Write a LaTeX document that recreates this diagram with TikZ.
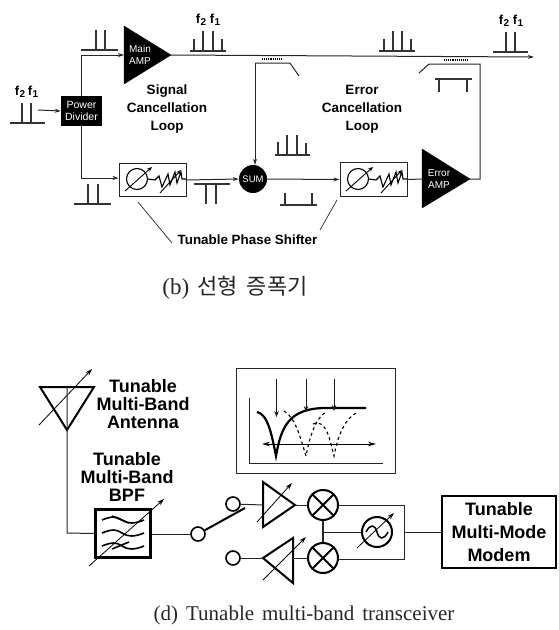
\documentclass[tikz,border=0pt]{standalone}
\usepackage{fontspec}
\setmainfont{Liberation Sans}
\newfontfamily\serifcap{Liberation Serif}
\newfontfamily\cjk{Noto Sans CJK KR}
\usetikzlibrary{arrows.meta}
\newcommand{\fsub}[1]{f\kern0.3pt\raisebox{-2.5pt}{\fontsize{10}{10}\selectfont #1}}
\tikzset{
  wire/.style={line width=1pt,draw=black!85},
  arr/.style={wire,-{Stealth[length=6pt,width=4pt]}},
  thin arr/.style={line width=0.8pt,draw=black!90,-{Stealth[length=6pt,width=4.5pt]}},
  spec/.style={line width=1.3pt,draw=black!80},
  blacktri/.style={fill=black,draw=black},
  amptext/.style={text=white,font=\fontsize{10}{12}\selectfont,align=center,inner sep=0pt},
  looplabel/.style={font=\bfseries\fontsize{13.5}{18}\selectfont,align=center,inner sep=0pt},
  boldlabel/.style={font=\bfseries\fontsize{18}{18}\selectfont,align=center,inner sep=0pt},
  freqlabel/.style={font=\bfseries\fontsize{13}{13}\selectfont,inner sep=0pt},
  psbox/.style={draw=black!85,line width=1pt,minimum width=67pt,minimum height=33.5pt,inner sep=0pt},
  mix/.style={circle,draw=black,line width=2pt,minimum size=30pt,inner sep=0pt},
  contact/.style={circle,draw=black,line width=1.6pt,minimum size=14pt,inner sep=0pt},
  thickline/.style={line width=2pt,draw=black},
}
\newcommand{\shifterart}{%
  \draw[line width=1.1pt] (18,16) circle (10.5);
  \draw[line width=0.9pt,-{Stealth[length=5pt,width=4pt]}] (6,28) -- (33,4);
  \draw[line width=1.1pt] (29,16) -- (36,17) -- (40,13) -- (43,24) -- (49,11) -- (51,22) -- (56,9) -- (58,20) -- (62,9) -- (63,16) -- (67,16);
  \draw[line width=0.9pt,-{Stealth[length=5pt,width=4pt]}] (41,30) -- (62,7);
}
\begin{document}
\begin{tikzpicture}[x=1pt,y=-1pt]
\useasboundingbox (0,0) rectangle (558,630);
% ---------- (b) linear amplifier ----------
\node[fill=black,minimum width=41pt,minimum height=30pt,inner sep=0pt,text=white,align=center,font=\fontsize{10.5}{12.5}\selectfont] (pd) at (81.5,111) {Power\\Divider};
\coordinate (mainin) at (124,55);
\coordinate (mainout) at (171,55);
\fill[blacktri] (124,26) -- (mainout) -- (124,84) -- cycle;
\node[amptext] (mainlabel) at (140,55) {Main\\AMP};
\coordinate (inA) at (38,110);
\draw[arr] (inA) -- (pd.west);
\coordinate (corner1) at (81,55);
\draw[arr] (pd.north -| corner1) -- (corner1) -- (mainin);
\coordinate (outend) at (534,57);
\draw[arr] (mainout) -- (outend);
\node[psbox] (ps1) at (152.5,180) {};
\node[psbox] (ps2) at (373.5,179.5) {};
\begin{scope}[shift={(119,163)}]\shifterart\end{scope}
\begin{scope}[shift={(340,163)}]\shifterart\end{scope}
\node[circle,fill=black,minimum size=28pt,inner sep=0pt,text=white,font=\fontsize{9.5}{10}\selectfont] (sum) at (253,179) {SUM};
\coordinate (corner2) at (81,178);
\draw[arr] (pd.south -| corner2) -- (corner2) -- (ps1.west |- corner2);
\draw[arr] (ps1.east) -- (sum.west);
\draw[arr] (sum.east) -- (ps2.west);
\coordinate (eampin) at (422,179);
\coordinate (eampout) at (470,179);
\fill[blacktri] (422,149) -- (eampout) -- (422,208) -- cycle;
\node[amptext] (eamplabel) at (439,179) {Error\\AMP};
\draw[wire] (ps2.east) -- (eampin);
% couplers
\coordinate (c1a) at (299,76);
\coordinate (c1b) at (290,63);
\coordinate (c1c) at (255,63);
\draw[wire] (c1a) -- (c1b) -- (c1c);
\draw[arr] (c1c) -- (sum.north -| c1c);
\draw[line width=1.1pt,densely dotted] (262,59) -- (283,59);
\coordinate (c2a) at (419,73);
\coordinate (c2b) at (429,64);
\coordinate (c2c) at (480,64);
\coordinate (c2d) at (480,179);
\draw[wire] (c2a) -- (c2b) -- (c2c) -- (c2d) -- (eampout);
\draw[line width=1.1pt,densely dotted] (444,60) -- (468,60);
% spectra
\draw[spec] (10,123) -- (45,123) (22,103) -- (22,123) (31,103) -- (31,123);
\node[freqlabel] (fi2) at (20,92) {\fsub2};
\node[freqlabel] (fi1) at (33,92) {\fsub1};
\draw[spec] (81,50) -- (118,50) (96,30) -- (96,50) (105,30) -- (105,50);
\draw[spec] (190,51) -- (226,51) (194,39) -- (194,51) (203,31) -- (203,51) (213,31) -- (213,51) (222,39) -- (222,51);
\node[freqlabel] (fm2) at (201,20) {\fsub2};
\node[freqlabel] (fm1) at (215,20) {\fsub1};
\draw[spec] (379,51) -- (415,51) (384,39) -- (384,51) (393,31) -- (393,51) (402,31) -- (402,51) (411,39) -- (411,51);
\draw[spec] (493,52) -- (528,52) (506,32) -- (506,52) (515,32) -- (515,52);
\node[freqlabel] (fo2) at (504,21) {\fsub2};
\node[freqlabel] (fo1) at (518,21) {\fsub1};
\draw[spec] (435,79) -- (472,79) (439,79) -- (439,92) (467,79) -- (467,92);
\draw[spec] (74,204) -- (111,204) (88,184) -- (88,204) (98,184) -- (98,204);
\draw[spec] (194,184) -- (230,184) (206,184) -- (206,204) (216,184) -- (216,204);
\draw[spec] (275,155) -- (310,155) (278,142) -- (278,155) (287,135) -- (287,155) (297,135) -- (297,155) (306,143) -- (306,155);
\draw[spec] (280,205) -- (317,205) (285,193) -- (285,205) (312,193) -- (312,205);
% labels
\node[looplabel] (sigloop) at (167,109) {Signal\\Cancellation\\Loop};
\node[looplabel] (errloop) at (362,109) {Error\\Cancellation\\Loop};
\node[inner sep=0pt,font=\bfseries\fontsize{13.4}{14}\selectfont] (tps) at (247.5,240) {Tunable Phase Shifter};
\coordinate (tl1) at (172,243);
\coordinate (tl2) at (320,230);
\draw[wire,line width=0.7pt] (138,202) -- (tl1);
\draw[wire,line width=0.7pt] (337,200) -- (tl2);
\node[inner sep=0pt,text=black!85] (capb) at (235,288) {{\serifcap\fontsize{23}{26}\selectfont (b)}\hspace{8pt}{\cjk\fontsize{22}{26}\selectfont 선형\hspace{9pt}증폭기}};
% ---------- (d) transceiver ----------
\coordinate (antapex) at (67,430);
\coordinate (anttop) at (67,387);
\draw[line width=2pt,line join=miter] (40,387) -- (94,387) -- (antapex) -- cycle;
\draw[line width=0.8pt,-{Stealth[length=7pt,width=4.5pt]}] (39,425) -- (92,369);
\node[draw=black,line width=2.4pt,minimum width=55pt,minimum height=48pt,inner sep=0pt] (bpf) at (123,533.5) {};
\draw[wire] (anttop) -- (antapex) -- (67,533) -- (bpf.west);
\foreach \yy in {520,533,546}{
  \draw[line width=1.6pt] (102,\yy) .. controls (112,\yy-4) and (116,\yy-4) .. (122,\yy) .. controls (128,\yy+4) and (134,\yy+4) .. (144,\yy);
}
\draw[line width=1.6pt] (112,516) -- (129,523) (112,549) -- (129,542);
\draw[line width=0.8pt,-{Stealth[length=7pt,width=4.5pt]}] (89,566) -- (164,499);
\node[boldlabel] (antlabel) at (143,404) {Tunable\\Multi-Band\\Antenna};
\node[boldlabel] (bpflabel) at (127,477) {Tunable\\Multi-Band\\BPF};
\node[contact] (swin) at (198,534) {};
\node[contact] (swa) at (233,504) {};
\node[contact] (swb) at (233,558) {};
\draw[wire] (bpf.east |- swin) -- (swin);
\coordinate (armend) at (245,508);
\draw[line width=2pt] (swin) -- (armend);
% amps
\coordinate (ua1) at (263,482);
\coordinate (ua2) at (263,527);
\coordinate (uatip) at (295,505);
\draw[thickline,line join=miter] (ua1) -- (uatip) -- (ua2) -- cycle;
\coordinate (la1) at (293,538);
\coordinate (la2) at (293,583);
\coordinate (latip) at (263,558);
\draw[thickline,line join=miter] (la1) -- (latip) -- (la2) -- cycle;
\draw[line width=0.8pt,-{Stealth[length=7pt,width=4.5pt]}] (257,522) -- (292,483);
\draw[line width=0.8pt,-{Stealth[length=7pt,width=4.5pt]}] (263,580) -- (306,537);
\node[mix] (mixu) at (323,505) {};
\node[mix] (mixl) at (323,558) {};
\draw[line width=1.8pt] (mixu.north west) -- (mixu.south east) (mixu.north east) -- (mixu.south west);
\draw[line width=1.8pt] (mixl.north west) -- (mixl.south east) (mixl.north east) -- (mixl.south west);
\coordinate (uin) at (263,505);
\coordinate (lin) at (263,558);
\draw[wire] (swa) -- (uin);
\draw[wire] (swb) -- (lin);
\draw[wire] (uatip) -- (mixu.west);
\draw[wire] (la1 |- mixl) -- (mixl.west);
\draw[wire,line width=1.2pt] (mixu.south) -- (mixl.north);
\node[circle,draw=black,line width=2pt,minimum size=30pt,inner sep=0pt] (lo) at (377,532) {};
\draw[line width=1.5pt] (366,532) .. controls (370,524) and (375,524) .. (377,532) .. controls (379,540) and (384,540) .. (388,532);
\draw[line width=0.8pt,-{Stealth[length=7pt,width=4.5pt]}] (357,548) -- (394,513);
\coordinate (tap) at (323,532);
\draw[wire] (tap) -- (lo.west);
\coordinate (busT) at (404,505);
\coordinate (busB) at (404,559);
\draw[wire] (mixu.east) -- (busT) -- (busB) -- (mixl.east |- busB);
\node[draw=black,line width=2.2pt,minimum width=114pt,minimum height=72pt,inner sep=0pt,align=center,font=\bfseries\fontsize{18}{23}\selectfont] (modem) at (499,532) {Tunable\\Multi-Mode\\Modem};
\draw[wire] (404,532) -- (modem.west);
% inset
\node[draw=black!85,line width=1pt,minimum width=159pt,minimum height=105pt,inner sep=0pt] (inset) at (315.5,420.5) {};
\coordinate (ax1) at (249,398);
\coordinate (ax2) at (249,463);
\coordinate (ax3) at (383,463);
\draw[wire] (ax1) -- (ax2) -- (ax3);
\coordinate (fa) at (262,444);
\coordinate (fb) at (376,444);
\draw[line width=0.9pt,{Stealth[length=8pt,width=4.5pt]}-{Stealth[length=8pt,width=4.5pt]}] (fa) -- (fb);
\draw[line width=1.1pt,dashed] (284,411) .. controls (296,418) and (301,440) .. (306,456) .. controls (310,435) and (316,418) .. (326,412);
\draw[line width=1.1pt,dashed] (313,424) .. controls (326,418) and (330,440) .. (334,456) .. controls (338,435) and (345,418) .. (358,412);
\draw[line width=2.2pt] (257,412) .. controls (268,414) and (272,436) .. (276,456) .. controls (281,428) and (288,408) .. (326,408) -- (366,408);
\coordinate (d1) at (276.5,379);
\coordinate (d2) at (306,379);
\coordinate (d3) at (334,379);
\draw[thin arr] (d1) -- (276.5,417);
\draw[thin arr] (d2) -- (306,412);
\draw[thin arr] (d3) -- (334,411);
\node[inner sep=0pt,text=black!85,font=\serifcap\fontsize{21}{24}\selectfont] (capd) at (304,615) {\spaceskip=8pt (d) Tunable multi-band transceiver};
\end{tikzpicture}
\end{document}
